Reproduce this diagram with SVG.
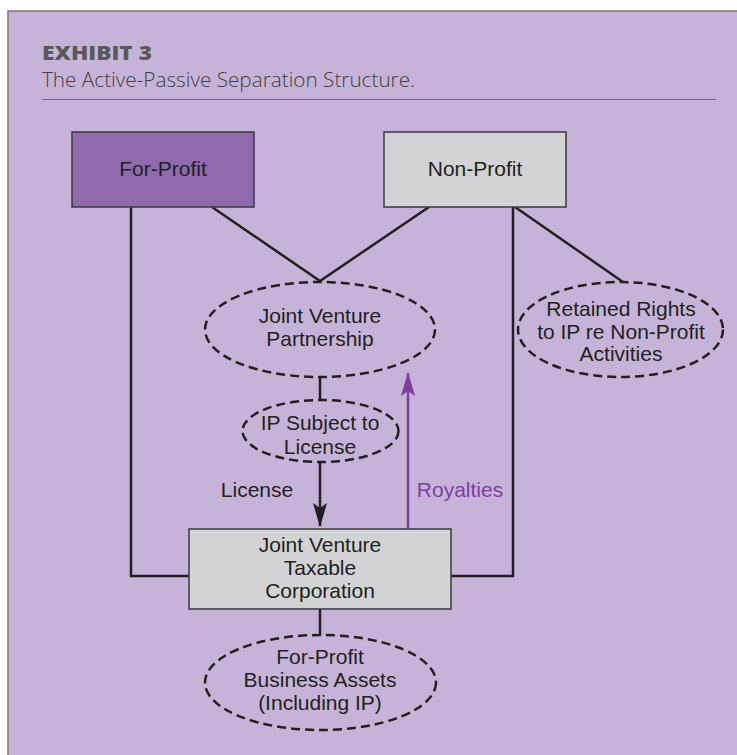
<svg xmlns="http://www.w3.org/2000/svg" width="737" height="755" viewBox="0 0 737 755">
<style>
.nt{font-family:"Liberation Sans",Arial,sans-serif;font-size:21px;fill:#231F20;text-anchor:middle}
.box{stroke:#3A3A3C;stroke-width:1.5}
.ell{fill:none;stroke:#231F20;stroke-width:2.5;stroke-dasharray:9 5}
.ln{fill:none;stroke:#231F20;stroke-width:2.5}
</style>
<defs>
<marker id="ab" viewBox="0 0 24 16" refX="23" refY="8" markerWidth="24" markerHeight="16" markerUnits="userSpaceOnUse" orient="auto">
<path d="M0,1 L5,8 L0,15 L24,8 Z" fill="#231F20"/>
</marker>
<marker id="ap" viewBox="0 0 24 16" refX="23" refY="8" markerWidth="24" markerHeight="16" markerUnits="userSpaceOnUse" orient="auto">
<path d="M0,1 L5,8 L0,15 L24,8 Z" fill="#7B3F9E"/>
</marker>
</defs>
<rect x="8" y="11" width="740" height="760" fill="#C6B4D8" stroke="#7A7A7C" stroke-width="1.5"/>
<g id="header">
<text x="42" y="60" font-family="'Open Sans',sans-serif" font-weight="800" font-size="18.5" fill="#58595B" textLength="110" lengthAdjust="spacingAndGlyphs">EXHIBIT 3</text>
<text x="42" y="87" font-family="'Open Sans',sans-serif" font-weight="300" font-size="21" fill="#3F3F41" textLength="373" lengthAdjust="spacingAndGlyphs">The Active-Passive Separation Structure.</text>
<line x1="42" y1="99.5" x2="716" y2="99.5" stroke="#6D6E71" stroke-width="1.2"/>
</g>
<g id="connectors">
<path class="ln" d="M131,207 V576 H189"/>
<path class="ln" d="M513,207 V576 H451"/>
<path class="ln" d="M212,207 L320,281 L429,207"/>
<path class="ln" d="M515,207 L623,282"/>
<path class="ln" d="M320,377 V400"/>
<path class="ln" d="M320,462 V526" marker-end="url(#ab)"/>
<path d="M408,529 V373" fill="none" stroke="#7B3F9E" stroke-width="2.5" marker-end="url(#ap)"/>
<path class="ln" d="M320,609 V635"/>
<text x="257" y="497" class="nt">License</text>
<text x="460" y="497" class="nt" style="fill:#7B3F9E">Royalties</text>
</g>
<g id="for-profit">
<rect class="box" x="72" y="132" width="182" height="75" fill="#8F6BAE"/>
<text x="163" y="176" class="nt">For-Profit</text>
</g>
<g id="non-profit">
<rect class="box" x="384" y="132" width="182" height="75" fill="#D1D3D4"/>
<text x="475" y="176" class="nt">Non-Profit</text>
</g>
<g id="jv-partnership">
<ellipse class="ell" cx="320" cy="329.5" rx="115" ry="47.5"/>
<text x="320" y="323" class="nt">Joint Venture</text>
<text x="320" y="346" class="nt">Partnership</text>
</g>
<g id="retained-rights">
<ellipse class="ell" cx="620.5" cy="329.5" rx="102.5" ry="47.5"/>
<text x="621" y="316" class="nt">Retained Rights</text>
<text x="621" y="339" class="nt">to IP re Non-Profit</text>
<text x="621" y="361" class="nt">Activities</text>
</g>
<g id="ip-subject">
<ellipse class="ell" cx="320.5" cy="431" rx="78" ry="31"/>
<text x="320" y="430" class="nt">IP Subject to</text>
<text x="320" y="454" class="nt">License</text>
</g>
<g id="jv-corporation">
<rect class="box" x="189" y="529" width="262" height="80" fill="#D1D3D4"/>
<text x="320" y="552" class="nt">Joint Venture</text>
<text x="320" y="575" class="nt">Taxable</text>
<text x="320" y="598" class="nt">Corporation</text>
</g>
<g id="business-assets">
<ellipse class="ell" cx="320.5" cy="682.5" rx="115.5" ry="47.5"/>
<text x="320" y="664" class="nt">For-Profit</text>
<text x="320" y="687" class="nt">Business Assets</text>
<text x="320" y="710" class="nt">(Including IP)</text>
</g>
</svg>
